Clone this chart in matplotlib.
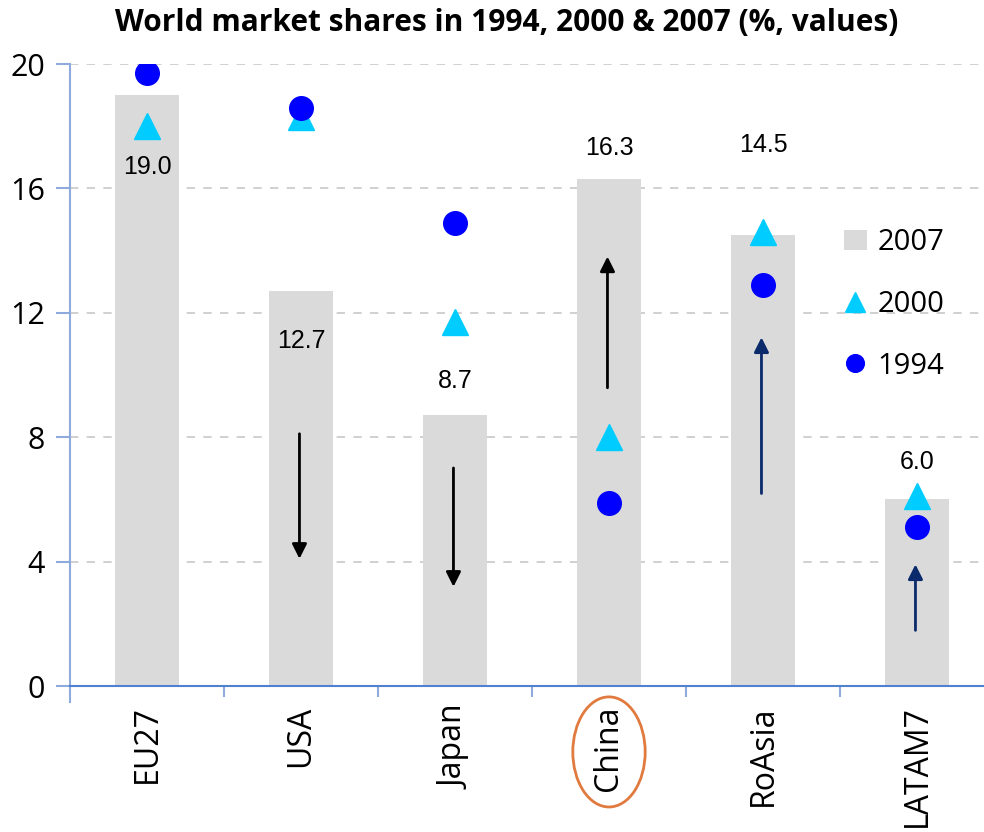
import matplotlib.pyplot as plt
from matplotlib.patches import Ellipse
import matplotlib.transforms as mtransforms

# data
regions = ["EU27", "USA", "Japan", "China", "RoAsia", "LATAM7"]
share_2007 = [19.0, 12.7, 8.7, 16.3, 14.5, 6.0]
share_2000 = [18.0, 18.3, 11.7, 8.0, 14.6, 6.1]
share_1994 = [19.7, 18.6, 14.9, 5.9, 12.9, 5.1]
bar_labels = ["19.0", "12.7", "8.7", "16.3", "14.5", "6.0"]
label_y = [16.7, 11.1, 9.8, 17.3, 17.4, 7.2]

# trend arrows (region index, start, end, colour)
arrow_idx = [1, 2, 3, 4, 5]
arrow_from = [8.2, 7.1, 9.5, 6.1, 1.7]
arrow_to = [4.0, 3.1, 13.9, 11.3, 4.0]
arrow_col = ["black", "black", "black", "#0B2A6B", "#0B2A6B"]

plt.rcParams['font.family'] = ['Open Sans', 'DejaVu Sans']

fig = plt.figure(figsize=(9.84, 8.32), dpi=100)
ax = fig.add_axes([70 / 984, 1 - 686 / 832, 924 / 984, 622 / 832])

x = list(range(len(regions)))
bars = ax.bar(x, share_2007, width=0.42, color="#DADADA", label="2007", zorder=2)
tri, = ax.plot(x, share_2000, linestyle="none", marker="^", markersize=19,
               color="#00CCFF", label="2000", zorder=4)
dot, = ax.plot(x, share_1994, linestyle="none", marker="o", markersize=17,
               color="#0000FF", label="1994", zorder=5)

for i, t in enumerate(bar_labels):
    ax.text(x[i], label_y[i], t, ha="center", va="center", fontsize=18,
            family="Liberation Sans", zorder=6)

for i, y0, y1, c in zip(arrow_idx, arrow_from, arrow_to, arrow_col):
    ax.annotate("", xy=(x[i] - 0.01, y1), xytext=(x[i] - 0.01, y0),
                arrowprops=dict(arrowstyle="-|>", color=c, lw=2,
                                mutation_scale=22), zorder=6)

ax.set_xlim(-0.5, 5.5)
ax.set_ylim(0, 20)
ax.set_yticks([0, 4, 8, 12, 16, 20])
ax.yaxis.grid(True, linestyle=(0, (5, 5)), color="#C8C8C8", lw=1.2, zorder=0)
ax.set_axisbelow(True)

ax.set_xticks(x)
ax.set_xticklabels(regions, rotation=90, fontsize=23)
ax.set_xticks([i + 0.5 for i in x[:-1]], minor=True)
ax.tick_params(axis="x", which="major", length=0, pad=14)
ax.tick_params(axis="x", which="minor", length=8, color="#8FAADC", width=1.5)
ax.tick_params(axis="y", labelsize=22, length=10, color="#8FAADC", width=1.5, pad=8)

for s in ["top", "right"]:
    ax.spines[s].set_visible(False)
ax.spines["left"].set_color("#8FAADC")
ax.spines["left"].set_linewidth(1.5)
ax.spines["left"].set_bounds(-0.5, 20)
ax.spines["bottom"].set_color("#4F81D0")
ax.spines["bottom"].set_linewidth(1.5)

# orange ellipse round the China label
trans = mtransforms.blended_transform_factory(ax.transData, ax.transAxes)
ax.add_patch(Ellipse((3, -0.106), 0.47, 0.177, transform=trans, fill=False,
                     edgecolor="#E07A3F", lw=2, clip_on=False))

ax.legend([bars, tri, dot], ["2007", "2000", "1994"], loc="upper left",
          bbox_to_anchor=(0.809, 0.778), frameon=False,
          fontsize=21, handlelength=0.8, handletextpad=0.35, labelspacing=1.12,
          markerscale=0.75)

fig.suptitle("World market shares in 1994, 2000 & 2007 (%, values)",
             fontsize=21.5, fontweight="bold", x=0.515, y=0.99)

fig.savefig("out.png", dpi=100)
